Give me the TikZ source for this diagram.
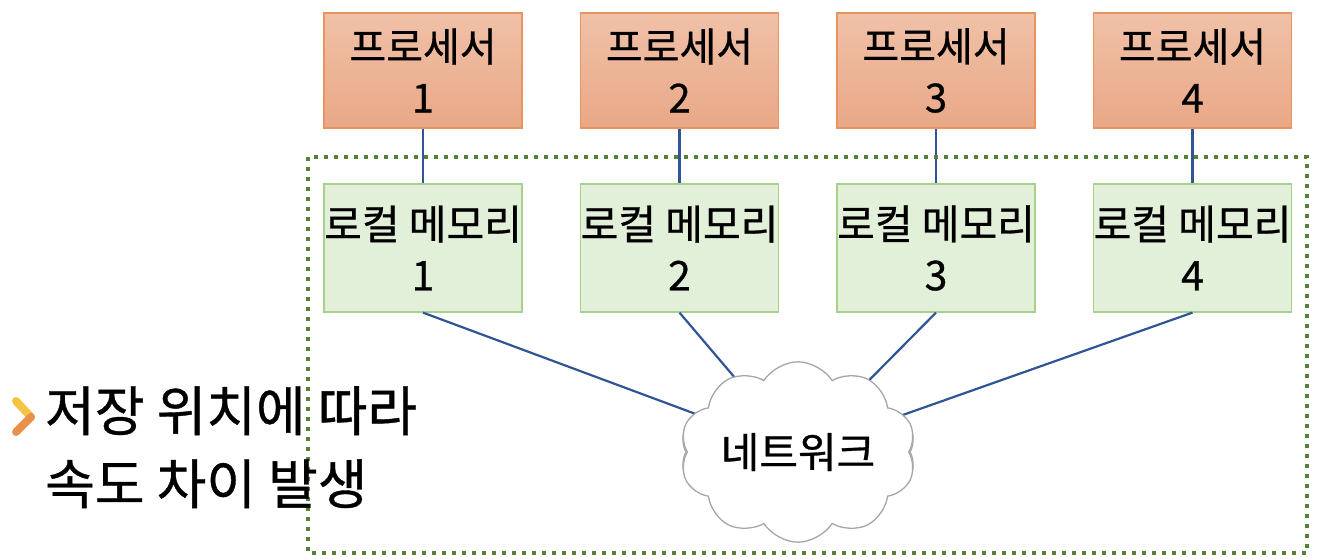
\documentclass[tikz,border=0pt]{standalone}
\usepackage{fontspec}
\setmainfont[FakeBold=0.7]{Noto Sans CJK KR}
\usetikzlibrary{shapes.symbols}
\definecolor{proctop}{HTML}{F0C1A8}
\definecolor{procbot}{HTML}{E9A886}
\definecolor{procedge}{HTML}{E9935F}
\definecolor{memfill}{HTML}{E2EFD9}
\definecolor{memedge}{HTML}{A9D18E}
\definecolor{linkcol}{HTML}{2F5597}
\definecolor{dotgreen}{HTML}{548235}
\definecolor{bulA}{HTML}{F6C344}
\definecolor{bulB}{HTML}{E8914A}
\tikzset{
  procbox/.style={draw=procedge, line width=1.2pt, top color=proctop, bottom color=procbot,
    minimum width=198pt, minimum height=115pt, inner sep=0pt, align=center,
    font=\fontsize{40}{51}\selectfont},
  membox/.style={draw=memedge, line width=1.2pt, fill=memfill,
    minimum width=198pt, minimum height=128pt, inner sep=0pt, align=center,
    font=\fontsize{41}{51}\selectfont},
  netcloud/.style={draw=gray!70, line width=1.3pt, fill=white, shape=cloud, cloud puffs=10,
    cloud puff arc=115, aspect=1.45, minimum width=236pt, minimum height=166pt,
    inner sep=0pt, font=\fontsize{42}{46}\selectfont},
  link/.style={draw=linkcol, line width=2.2pt},
  dotframe/.style={draw=dotgreen, line width=4pt, dash pattern=on 4pt off 6pt},
  bullettext/.style={anchor=north west, align=left, inner sep=0pt,
    font=\fontsize{54}{73}\selectfont}
}
\begin{document}
\begin{tikzpicture}[x=1pt,y=-1pt]
\useasboundingbox (0,0) rectangle (1336,558);
% processors
\node[procbox] (p1) at (423,70.5) {프로세서\\1};
\node[procbox] (p2) at (679.5,70.5) {프로세서\\2};
\node[procbox] (p3) at (936,70.5) {프로세서\\3};
\node[procbox] (p4) at (1192.5,70.5) {프로세서\\4};
% local memories
\node[membox] (m1) at (423,248) {로컬 메모리\\1};
\node[membox] (m2) at (679.5,248) {로컬 메모리\\2};
\node[membox] (m3) at (936,248) {로컬 메모리\\3};
\node[membox] (m4) at (1192.5,248) {로컬 메모리\\4};
% network cloud
\node[netcloud] (net) at (798,452) {};
% links
\draw[link] (p1) -- (m1);
\draw[link] (p2) -- (m2);
\draw[link] (p3) -- (m3);
\draw[link] (p4) -- (m4);
\draw[link] (m1.south) -- (net);
\draw[link] (m2.south) -- (net);
\draw[link] (m3.south) -- (net);
\draw[link] (m4.south) -- (net);
\node[netcloud] (netlabel) at (798,452) {네트워크};
% dotted frame
\draw[dotframe] (308,157) rectangle (1307,553);
% bullet and text
\coordinate (b1) at (16,401);
\coordinate (b2) at (31,417);
\coordinate (b3) at (16,432);
\draw[bulA, line width=8pt, line cap=round] (b1) -- (b2);
\draw[bulB, line width=8pt, line cap=round] (b2) -- (b3);
\node[bullettext] (txt) at (45,386) {저장 위치에 따라\\속도 차이 발생};
\end{tikzpicture}
\end{document}
